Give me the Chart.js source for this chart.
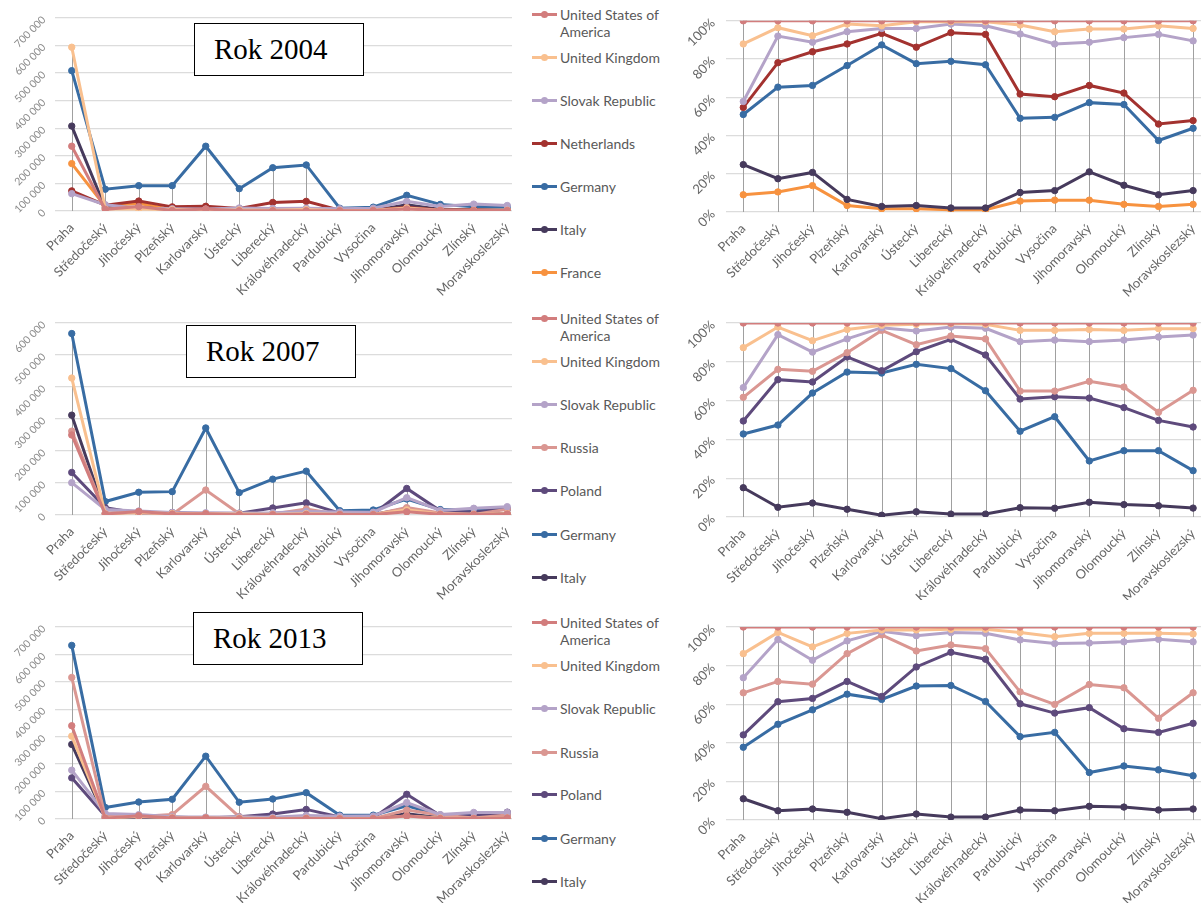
<!DOCTYPE html>
<html><head><meta charset="utf-8">
<script src="https://cdn.jsdelivr.net/npm/chart.js@4.4.1/dist/chart.umd.min.js"></script>
<style>
html,body{margin:0;padding:0;background:#fff;}
body{width:1201px;height:903px;overflow:hidden;position:relative;font-family:Lato,sans-serif;}
.box{position:absolute;overflow:hidden;}
.box canvas{position:absolute;left:0;top:0;}
.title{position:absolute;border:1px solid #000;background:#fff;font-family:'Liberation Serif','Times New Roman',serif;font-size:29px;color:#000;box-sizing:border-box;padding-left:19px;width:170px;height:53px;line-height:51px;}
.item{position:absolute;left:532px;font-family:Lato,sans-serif;font-size:14px;line-height:17px;color:#595959;}
.item .mk{position:absolute;left:0;top:7px;width:25px;height:3px;}
.item .dot{position:absolute;left:9px;top:-2px;width:7px;height:7px;border-radius:50%;}
.item .tx{position:absolute;left:28px;top:0;width:112px;}
</style>
</head><body>
<script>
// ---------- categories & series names ----------
const regions = ['Praha','Středočeský','Jihočeský','Plzeňský','Karlovarský','Ústecký','Liberecký','Královéhradecký','Pardubický','Vysočina','Jihomoravský','Olomoucký','Zlínský','Moravskoslezský'];
const series2004 = ['United States of America','United Kingdom','Slovak Republic','Netherlands','Germany','Italy','France'];
const series2007 = ['United States of America','United Kingdom','Slovak Republic','Russia','Poland','Germany','Italy'];
const series2013 = ['United States of America','United Kingdom','Slovak Republic','Russia','Poland','Germany','Italy'];
const titles = ['Rok 2004','Rok 2007','Rok 2013'];
const leftMaxK = [700, 600, 700];      // axis maximum, thousands
const leftStepK = 100;
const pctTicks = [0, 20, 40, 60, 80, 100];

// ---------- 2004 counts (thousands) ----------
const k2004_usa     = [235, 6, 16, 2, 7, 1, 1, 1, 1, 2, 7, 2.5, 1.5, 2];
const k2004_uk      = [594, 7, 7, 5, 4, 4, 2.5, 5, 1.2, 2.4, 11, 2.6, 2.4, 3];
const k2004_slovak  = [63, 23, 10, 8, 7, 11, 9, 10, 8, 10, 35, 16, 25, 20];
const k2004_nl      = [73, 21, 36, 15, 17, 9, 31, 35, 3.3, 4, 14, 3.4, 4.6, 2];
const k2004_germany = [509, 79, 92, 92, 235, 81, 157, 167, 10, 14, 57, 24, 15, 15.6];
const k2004_italy   = [308, 11, 14, 4, 3, 2, 2, 2, 1.2, 1.8, 23, 5.7, 3.2, 3.5];
const k2004_france  = [172, 17, 28, 4.5, 5, 2, 2.5, 3, 1.5, 2.3, 10, 2.3, 1.5, 2];
// ---------- 2004 cumulative shares (%) ----------
const p2004_usa     = [100,100,100,100,100,100,100,100,100,100,100,100,100,100];
const p2004_uk      = [87.9, 96.4, 92.2, 98.3, 97.4, 99.5, 99.5, 99.5, 97.8, 94.3, 95.7, 95.7, 97.4, 96];
const p2004_slovak  = [57.8, 92, 88.8, 94.3, 96, 96, 98.3, 97.4, 93.1, 87.9, 88.8, 91.2, 92.9, 89.5];
const p2004_nl      = [54.7, 78.1, 83.8, 87.9, 93.4, 86.2, 93.8, 92.9, 61.7, 60.3, 66.2, 62.2, 46, 47.8];
const p2004_germany = [51, 65.3, 66.2, 76.6, 87.4, 77.6, 78.8, 77, 49, 49.5, 57.2, 56.2, 37.4, 43.8];
const p2004_italy   = [24.8, 17.4, 20.7, 6.6, 2.9, 3.4, 2.1, 2.1, 10.2, 11.2, 21, 14, 9, 11.2];
const p2004_france  = [9, 10.5, 13.8, 3.4, 1.7, 1.7, 1.2, 1.2, 5.7, 6.2, 6.2, 4, 2.9, 4];

// ---------- 2007 counts (thousands) ----------
const k2007_usa     = [250, 3, 11, 3, 4, 1, 1, 2, 1.4, 1.3, 10, 2.4, 1.6, 3];
const k2007_uk      = [428, 4, 7.5, 5, 4, 3, 2, 4, 2, 1.6, 16, 3, 2.7, 4];
const k2007_slovak  = [101, 17, 12.5, 8, 7, 6, 7, 11, 9, 8.6, 54, 14, 21, 26];
const k2007_russia  = [262, 6, 7.5, 2, 78, 4, 3, 19, 1.4, 1, 23, 6.6, 2, 18];
const k2007_poland  = [133, 23, 6, 8, 4, 5.5, 22, 38, 6, 3.3, 83, 13, 9, 20];
const k2007_germany = [567, 42, 71, 73, 272, 70, 112, 137, 13.5, 15.6, 50, 17, 15.7, 18];
const k2007_italy   = [312, 5, 9, 4, 4, 3, 2, 3, 1.7, 1.5, 20, 3.6, 3, 4];
// ---------- 2007 cumulative shares (%) ----------
const p2007_usa     = [100,100,100,100,100,100,100,100,100,100,100,100,100,100];
const p2007_uk      = [87.3, 97.9, 90.9, 96.7, 98.8, 99.3, 99.7, 99.3, 96.2, 96.2, 96.7, 96.2, 97.1, 97.1];
const p2007_slovak  = [66.7, 94, 85, 91.8, 97.6, 95.9, 97.9, 97.3, 90.4, 91.2, 90.4, 91.2, 92.8, 93.8];
const p2007_russia  = [61.7, 76.1, 75.1, 84.7, 96.2, 88.8, 93.3, 91.8, 64.9, 64.9, 69.9, 67, 54, 65.3];
const p2007_poland  = [49.5, 70.8, 69.6, 82.5, 75.4, 85.2, 91.6, 83.5, 60.8, 62, 61.3, 56.4, 49.8, 46.4];
const p2007_germany = [42.8, 47.4, 63.9, 74.7, 74.2, 78.7, 76.5, 65.1, 44.2, 51.7, 28.9, 34.2, 34.2, 23.9];
const p2007_italy   = [15.1, 5, 7.2, 4, 0.9, 2.7, 1.5, 1.5, 4.8, 4.5, 7.6, 6.4, 5.8, 4.6];

// ---------- 2013 counts (thousands) ----------
const k2013_usa     = [340, 3, 12, 3.5, 4, 1, 1, 2, 1, 1.7, 11, 2, 1.8, 4];
const k2013_uk      = [302, 4, 9, 5, 4, 3, 2, 3, 2, 1.4, 11, 3.5, 2.4, 4];
const k2013_slovak  = [178, 20, 16, 8, 7, 7, 6, 13, 10, 10.5, 60, 16, 24, 24];
const k2013_russia  = [516, 9, 9, 16, 119, 8, 4, 8, 2, 1.4, 33, 15, 4, 15];
const k2013_poland  = [150, 11, 7, 7, 4, 8, 18, 35, 7, 3.5, 90, 13, 12, 25];
const k2013_germany = [633, 42, 62, 72, 229, 61, 73, 96, 14, 14, 48, 15, 13, 16];
const k2013_italy   = [272, 5, 7, 5, 4, 3, 2, 3, 2, 1.5, 19, 4.5, 3, 5];
// ---------- 2013 cumulative shares (%) ----------
const p2013_usa     = [100,100,100,100,100,100,100,100,100,100,100,100,100,100];
const p2013_uk      = [86.2, 97.2, 89.7, 96.7, 98.5, 98.5, 98.8, 98.8, 97.2, 95, 96.7, 96.7, 96.7, 96.4];
const p2013_slovak  = [73.7, 93.5, 82.8, 92.8, 97.8, 95.5, 97.1, 96.7, 93.3, 91.4, 91.7, 92.3, 93.6, 92.3];
const p2013_russia  = [65.9, 71.8, 70.4, 86.2, 95.9, 87.6, 90.7, 88.8, 66.4, 59.9, 70.2, 68.5, 52.7, 65.9];
const p2013_poland  = [44.1, 61.3, 63, 71.8, 64, 79.3, 86.9, 83.3, 60.2, 55.4, 58.2, 47.3, 45.4, 50.1];
const p2013_germany = [37.7, 49.6, 57.1, 65.2, 62.5, 69.4, 69.7, 61.4, 43.2, 45.4, 24.6, 28, 26, 22.9];
const p2013_italy   = [11, 4.8, 5.7, 4, 0.7, 3.1, 1.5, 1.5, 5.2, 4.8, 7.1, 6.7, 5.2, 5.7];

// ---------- styling ----------
const colorOf = {
  'United States of America':'#d27d7d','United Kingdom':'#f9c08f','Slovak Republic':'#b4a3c8',
  'Netherlands':'#a3322f','Germany':'#386ca3','Italy':'#463a5c','France':'#f7923f',
  'Russia':'#da9792','Poland':'#5e4a7c'
};
const rows = [
  {top:0,   h:300, names:series2004,
   k:[k2004_usa,k2004_uk,k2004_slovak,k2004_nl,k2004_germany,k2004_italy,k2004_france],
   p:[p2004_usa,p2004_uk,p2004_slovak,p2004_nl,p2004_germany,p2004_italy,p2004_france],
   lTop:18, lBot:211, rTop:19, rBot:212, legendY:[14,57,100,143,186,229,272], title:[194,23]},
  {top:300, h:300, names:series2007,
   k:[k2007_usa,k2007_uk,k2007_slovak,k2007_russia,k2007_poland,k2007_germany,k2007_italy],
   p:[p2007_usa,p2007_uk,p2007_slovak,p2007_russia,p2007_poland,p2007_germany,p2007_italy],
   lTop:323, lBot:515, rTop:323, rBot:517, legendY:[318,361,404,447,490,534,577], title:[186,325]},
  {top:600, h:303, names:series2013,
   k:[k2013_usa,k2013_uk,k2013_slovak,k2013_russia,k2013_poland,k2013_germany,k2013_italy],
   p:[p2013_usa,p2013_uk,p2013_slovak,p2013_russia,p2013_poland,p2013_germany,p2013_italy],
   lTop:627, lBot:819, rTop:627, rBot:820, legendY:[622,665,708,752,794,838,881], title:[193,612]}
];

const dropLines = {
  id:'dropLines',
  beforeDatasetsDraw(chart){
    const {ctx, scales:{x,y}} = chart;
    ctx.save(); ctx.strokeStyle='#a0a0a0'; ctx.lineWidth=1;
    for(let i=0;i<chart.data.labels.length;i++){
      let m=-Infinity;
      chart.data.datasets.forEach(d=>{ if(d.data[i]>m) m=d.data[i]; });
      const px=Math.round(x.getPixelForValue(i))+0.5;
      ctx.beginPath(); ctx.moveTo(px, y.getPixelForValue(m)); ctx.lineTo(px, y.getPixelForValue(0)); ctx.stroke();
    }
    ctx.restore();
  }
};

function fmtThousands(n){ return String(Math.round(n)).replace(/\B(?=(\d{3})+(?!\d))/g,' '); }

function makeBox(left, top, w, h, cw){
  const d=document.createElement('div'); d.className='box';
  d.style.left=left+'px'; d.style.top=top+'px'; d.style.width=w+'px'; d.style.height=h+'px';
  const c=document.createElement('canvas'); c.width=cw; c.height=h;
  c.style.width=cw+'px'; c.style.height=h+'px';
  d.appendChild(c); document.body.appendChild(d); return c;
}

function build(canvas, names, arrays, opt){
  const datasets = names.map((n,i)=>({
    label:n, data:arrays[i], borderColor:colorOf[n], backgroundColor:colorOf[n],
    pointBackgroundColor:colorOf[n], pointBorderColor:colorOf[n],
    borderWidth:3, pointRadius:3.2, pointBorderWidth:1, tension:0, fill:false
  }));
  new Chart(canvas,{
    type:'line',
    data:{labels:regions, datasets},
    plugins:[dropLines],
    options:{
      responsive:false, animation:false, devicePixelRatio:1,
      events:[],
      layout:{padding:{top:opt.padTop, right:opt.padRight, left:0, bottom:0}},
      plugins:{legend:{display:false}, tooltip:{enabled:false}},
      scales:{
        x:{
          offset:true,
          grid:{display:false, drawTicks:false},
          border:{display:false},
          ticks:{color:'#666', font:{family:'Lato', size:13}, minRotation:45, maxRotation:45, autoSkip:false, padding:9},
          afterFit:s=>{ s.height=opt.xH; }
        },
        y:{
          min:0, max:opt.max,
          grid:{color:'#dcdcdc', lineWidth:1.3, drawTicks:false},
          border:{display:false},
          ticks:{stepSize:opt.step, color:opt.yColor, font:{family:'Lato', size:opt.yFont}, minRotation:45, maxRotation:45, padding:opt.yPad, callback:opt.fmt},
          afterFit:s=>{ s.width=opt.yW; }
        }
      }
    }
  });
}

rows.forEach((r,ri)=>{
  // left: absolute counts
  const lc = makeBox(0, r.top, 512, r.h, 530);
  build(lc, r.names, r.k, {
    padTop:r.lTop-r.top, padRight:530-524, xH:r.top+r.h-r.lBot, yW:55,
    max:leftMaxK[ri], step:leftStepK, yColor:'#8c8c8c', yFont:10.5, yPad:11,
    fmt:v=>fmtThousands(v*1000)
  });
  // right: cumulative shares
  const rc = makeBox(676, r.top, 525, r.h, 545);
  build(rc, r.names, r.p, {
    padTop:r.rTop-r.top, padRight:545-534.4, xH:r.top+r.h-r.rBot, yW:50,
    max:100, step:20, yColor:'#666', yFont:13, yPad:13,
    fmt:v=>v+'%'
  });
  // title box
  const t=document.createElement('div'); t.className='title';
  t.style.left=r.title[0]+'px'; t.style.top=r.title[1]+'px'; t.textContent=titles[ri];
  document.body.appendChild(t);
  // legend
  r.names.forEach((n,i)=>{
    const it=document.createElement('div'); it.className='item';
    it.style.top=(r.legendY[i]-8.5)+'px';
    const mk=document.createElement('div'); mk.className='mk'; mk.style.background=colorOf[n];
    const dot=document.createElement('div'); dot.className='dot'; dot.style.background=colorOf[n];
    mk.appendChild(dot);
    const tx=document.createElement('div'); tx.className='tx'; tx.textContent=n;
    it.appendChild(mk); it.appendChild(tx); document.body.appendChild(it);
  });
});
</script>
</body></html>
